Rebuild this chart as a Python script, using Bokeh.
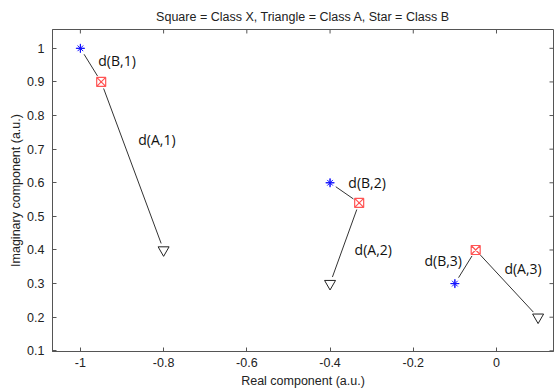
import numpy as np
from bokeh.plotting import figure
from bokeh.models import LinearAxis, FixedTicker, Range1d, ColumnDataSource
from bokeh.core.properties import value
from bokeh.embed import file_html
from bokeh.resources import INLINE

# --- data ---
star_x = [-1.0, -0.4, -0.1]          # Class B
star_y = [1.0, 0.6, 0.3]
square_x = [-0.95, -0.33, -0.05]     # Class X
square_y = [0.9, 0.54, 0.4]
tri_x = [-0.8, -0.4, 0.1]            # Class A
tri_y = [0.4, 0.3, 0.2]

labels = ["d(B,1)", "d(A,1)", "d(B,2)", "d(A,2)", "d(B,3)", "d(A,3)"]
label_x = [-0.957, -0.861, -0.356, -0.341, -0.173, 0.019]
label_y = [0.964, 0.728, 0.600, 0.402, 0.369, 0.346]

x_ticks = [-1.0, -0.8, -0.6, -0.4, -0.2, 0.0]
y_ticks = [0.1, 0.2, 0.3, 0.4, 0.5, 0.6, 0.7, 0.8, 0.9, 1.0]

title = "Square = Class X, Triangle = Class A, Star = Class B"
xlabel = "Real component (a.u.)"
ylabel = "Imaginary component (a.u.)"

# --- layout ---
W, H = 554, 390
BL, BR, BT, BB = 52, 1, 29, 38
XR = (-1.067, 0.137)
YR = (0.098, 1.056)
TICK = 4
AXC = "#555555"
FONT = "Liberation Sans"

p = figure(width=W, height=H, output_backend="svg", toolbar_location=None,
           x_range=Range1d(*XR), y_range=Range1d(*YR),
           min_border_left=BL, min_border_right=BR, min_border_top=BT,
           min_border_bottom=BB, x_axis_location=None, y_axis_location=None)
p.xgrid.visible = False
p.ygrid.visible = False
p.outline_line_color = AXC
p.outline_line_width = 1
p.background_fill_color = "white"
p.border_fill_color = "white"

p.title.text = title
p.title.align = "center"
p.title.text_font = FONT
p.title.text_font_size = "12.5px"
p.title.text_font_style = "normal"
p.title.text_color = "#222222"
p.title.standoff = 11


def style_axis(ax):
    ax.major_tick_in = TICK
    ax.major_tick_out = 0
    ax.minor_tick_in = 0
    ax.minor_tick_out = 0
    ax.axis_line_color = AXC
    ax.major_tick_line_color = AXC
    ax.major_label_text_font = FONT
    ax.major_label_text_font_size = "12.5px"
    ax.major_label_text_color = "#222222"
    ax.axis_label_text_font = FONT
    ax.axis_label_text_font_size = "12.5px"
    ax.axis_label_text_font_style = "normal"
    ax.axis_label_text_color = "#222222"


xb = LinearAxis(ticker=FixedTicker(ticks=x_ticks), axis_label=xlabel)
xb.major_label_overrides = {t: ("%g" % t) for t in x_ticks}
style_axis(xb)
xb.major_label_standoff = 6
xb.axis_label_standoff = 4
p.add_layout(xb, "below")

yl = LinearAxis(ticker=FixedTicker(ticks=y_ticks), axis_label=ylabel)
yl.major_label_overrides = {t: ("%g" % t) for t in y_ticks}
style_axis(yl)
yl.major_label_standoff = 8
yl.axis_label_standoff = 1
p.add_layout(yl, "left")

fw = W - BL - BR
fh = H - BT - BB
sx = fw / (XR[1] - XR[0])
sy = fh / (YR[1] - YR[0])

# mirrored ticks on top and right edges (MATLAB box style)
tx = np.array(x_ticks)
ty = np.array(y_ticks)
p.segment(x0=tx, y0=np.full_like(tx, YR[1]), x1=tx,
          y1=np.full_like(tx, YR[1] - TICK / sy), line_color=AXC, line_width=1)
p.segment(x0=np.full_like(ty, XR[1]), y0=ty, x1=np.full_like(ty, XR[1] - TICK / sx),
          y1=ty, line_color=AXC, line_width=1)

# --- connecting segments, shortened near markers ---
GAP = 7.0


def shorten(x0, y0, x1, y1, gap=GAP):
    dxp = (x1 - x0) * sx
    dyp = (y1 - y0) * sy
    L = np.hypot(dxp, dyp)
    f = gap / L
    return (x0 + (x1 - x0) * f, y0 + (y1 - y0) * f,
            x1 - (x1 - x0) * f, y1 - (y1 - y0) * f)


segs = {"x0": [], "y0": [], "x1": [], "y1": []}
for i in range(3):
    for (ax_, ay_) in [(star_x[i], star_y[i]), (tri_x[i], tri_y[i])]:
        a, b, c, d = shorten(square_x[i], square_y[i], ax_, ay_)
        segs["x0"].append(a); segs["y0"].append(b)
        segs["x1"].append(c); segs["y1"].append(d)
p.segment(x0="x0", y0="y0", x1="x1", y1="y1", source=ColumnDataSource(segs),
          line_color="#333333", line_width=1)

# --- markers ---
p.scatter(star_x, star_y, marker="asterisk", size=8, line_color="#1010ff",
          line_width=1)
p.scatter(star_x, star_y, marker="cross", size=9, line_color="#1010ff",
          line_width=1)
p.scatter(square_x, square_y, marker="square_x", size=9, line_color="#ff5555",
          fill_color="white", line_width=1.2)
p.scatter(tri_x, tri_y, marker="inverted_triangle", size=11, line_color="#222222",
          fill_color="white", line_width=1)

# --- labels ---
p.text(x=label_x, y=label_y, text=labels, text_font=value("Open Sans"),
       text_font_size="14px", text_color="#111111", text_align="left",
       text_baseline="middle")

open("out.html", "w").write(file_html(p, INLINE))
